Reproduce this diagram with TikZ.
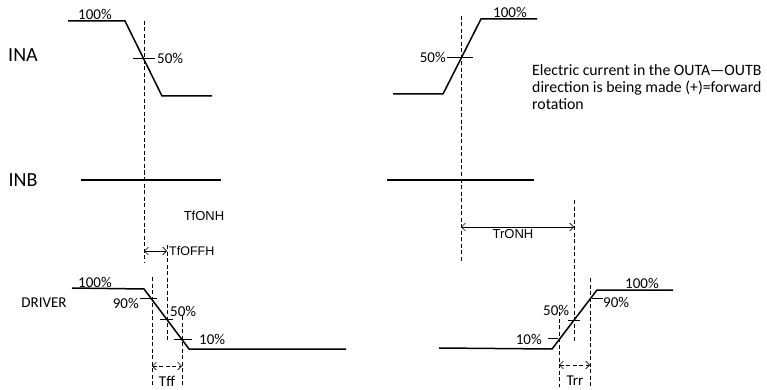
\documentclass[tikz,border=0pt]{standalone}
\usepackage{fontspec}
\setmainfont{Carlito}
\newfontfamily\arialf{Liberation Sans}
\usetikzlibrary{arrows.meta}
\begin{document}
\begin{tikzpicture}[x=1pt,y=-1pt,
 wave/.style={line width=1.5pt, line join=miter},
 tickln/.style={line width=0.8pt},
 guide/.style={line width=0.65pt, dash pattern=on 4pt off 2.5pt},
 lbl/.style={inner sep=0pt, font=\fontsize{15}{18}\selectfont},
 big/.style={inner sep=0pt, font=\fontsize{20}{24}\selectfont},
 note/.style={inner sep=0pt, font=\fontsize{15.8}{17}\selectfont},
 tlbl/.style={inner sep=0pt, font=\arialf\fontsize{13}{15}\selectfont},
 dimarrow/.style={line width=0.6pt, {Straight Barb[length=4pt,width=8pt]}-{Straight Barb[length=4pt,width=8pt]}},
]
\useasboundingbox (0,0) rectangle (767,390);

% ---------- INA ----------
\node[big] (ina) at (23,55) {INA};
\coordinate (a1) at (68,21);
\coordinate (a2) at (125,21);
\coordinate (a3) at (162,96);
\coordinate (a4) at (212,96);
\draw[wave] (a1) -- (a2) -- (a3) -- (a4);
\node[lbl, anchor=base west] (a100) at (78,20) {100\%};
\coordinate (at1) at (133,58);
\coordinate (at2) at (155,58);
\draw[tickln] (at1) -- (at2);
\node[lbl, anchor=west] (a50) at (157,58) {50\%};

\coordinate (b1) at (393,94);
\coordinate (b2) at (443,94);
\coordinate (b3) at (481,19);
\coordinate (b4) at (537,19);
\draw[wave] (b1) -- (b2) -- (b3) -- (b4);
\node[lbl, anchor=base west] (b100) at (493,18) {100\%};
\coordinate (bt1) at (447,57);
\coordinate (bt2) at (473,57);
\draw[tickln] (bt1) -- (bt2);
\node[lbl, anchor=east] (b50) at (446,57) {50\%};

\node[note, anchor=base west] (n1) at (532,76) {Electric current in the OUTA—OUTB};
\node[note, anchor=base west] (n2) at (532,93) {direction is being made (+)=forward};
\node[note, anchor=base west] (n3) at (532,110) {rotation};

% ---------- INB ----------
\node[big] (inb) at (23,180) {INB};
\coordinate (c1) at (81,180);
\coordinate (c2) at (221,180);
\draw[wave] (c1) -- (c2);
\coordinate (d1) at (387,180);
\coordinate (d2) at (534,180);
\draw[wave] (d1) -- (d2);

% ---------- guides ----------
\coordinate (g1a) at (144,21);  \coordinate (g1b) at (144,262);
\coordinate (g2a) at (461,16);  \coordinate (g2b) at (461,262);
\coordinate (g3a) at (167,245); \coordinate (g3b) at (167,341);
\coordinate (g4a) at (574,200); \coordinate (g4b) at (574,342);
\coordinate (g5a) at (152,277); \coordinate (g5b) at (152,387);
\coordinate (g6a) at (182,316); \coordinate (g6b) at (182,387);
\coordinate (g7a) at (559,312); \coordinate (g7b) at (559,387);
\coordinate (g8a) at (590,278); \coordinate (g8b) at (590,387);
\foreach \g in {g1,g2,g3,g4,g5,g6,g7,g8} \draw[guide] (\g a) -- (\g b);

% ---------- timing labels ----------
\node[tlbl] (tfonh) at (204,216) {TfONH};
\coordinate (f1) at (144,251);
\coordinate (f2) at (167,251);
\draw[dimarrow] (f1) -- (f2);
\node[tlbl, anchor=west, font=\arialf\fontsize{12.5}{15}\selectfont] (tfoffh) at (169,251) {TfOFFH};

\coordinate (r1) at (461,227);
\coordinate (r2) at (574,227);
\draw[dimarrow] (r1) -- (r2);
\node[tlbl, anchor=north] (tronh) at (513,229) {TrONH};

% ---------- DRIVER ----------
\node[lbl] (drv) at (44,303) {DRIVER};
\coordinate (e1) at (72,288);
\coordinate (e2) at (144,289);
\coordinate (e3) at (189,349);
\coordinate (e4) at (346,349);
\draw[wave] (e1) -- (e2) -- (e3) -- (e4);
\node[lbl, anchor=base west] (e100) at (78,287) {100\%};
\coordinate (et90a) at (140,298); \coordinate (et90b) at (157,298);
\draw[tickln] (et90a) -- (et90b);
\node[lbl, anchor=east] (e90) at (139,303) {90\%};
\coordinate (et50a) at (160,319); \coordinate (et50b) at (173,319);
\draw[tickln] (et50a) -- (et50b);
\node[lbl, anchor=west] (e50) at (170,311) {50\%};
\coordinate (et10a) at (174,339); \coordinate (et10b) at (192,339);
\draw[tickln] (et10a) -- (et10b);
\node[lbl, anchor=west] (e10) at (199,339) {10\%};

\coordinate (tf1) at (152,366);
\coordinate (tf2) at (182,366);
\draw[dimarrow, guide] (tf1) -- (tf2);
\node[lbl] (tff) at (167,381) {Tff};

\coordinate (h1) at (439,348);
\coordinate (h2) at (552,349);
\coordinate (h3) at (597,290);
\coordinate (h4) at (673,290);
\draw[wave] (h1) -- (h2) -- (h3) -- (h4);
\node[lbl, anchor=base west] (h100) at (625,288) {100\%};
\coordinate (ht90a) at (592,298); \coordinate (ht90b) at (603,298);
\draw[tickln] (ht90a) -- (ht90b);
\node[lbl, anchor=west] (h90) at (603,302) {90\%};
\coordinate (ht50a) at (568,320); \coordinate (ht50b) at (580,320);
\draw[tickln] (ht50a) -- (ht50b);
\node[lbl, anchor=west] (h50) at (543,310) {50\%};
\coordinate (ht10a) at (548,338); \coordinate (ht10b) at (558,338);
\draw[tickln] (ht10a) -- (ht10b);
\node[lbl, anchor=east] (h10) at (542,339) {10\%};

\coordinate (tr1) at (559,365);
\coordinate (tr2) at (590,365);
\draw[dimarrow, guide] (tr1) -- (tr2);
\node[lbl] (trr) at (575,381) {Trr};
\end{tikzpicture}
\end{document}
